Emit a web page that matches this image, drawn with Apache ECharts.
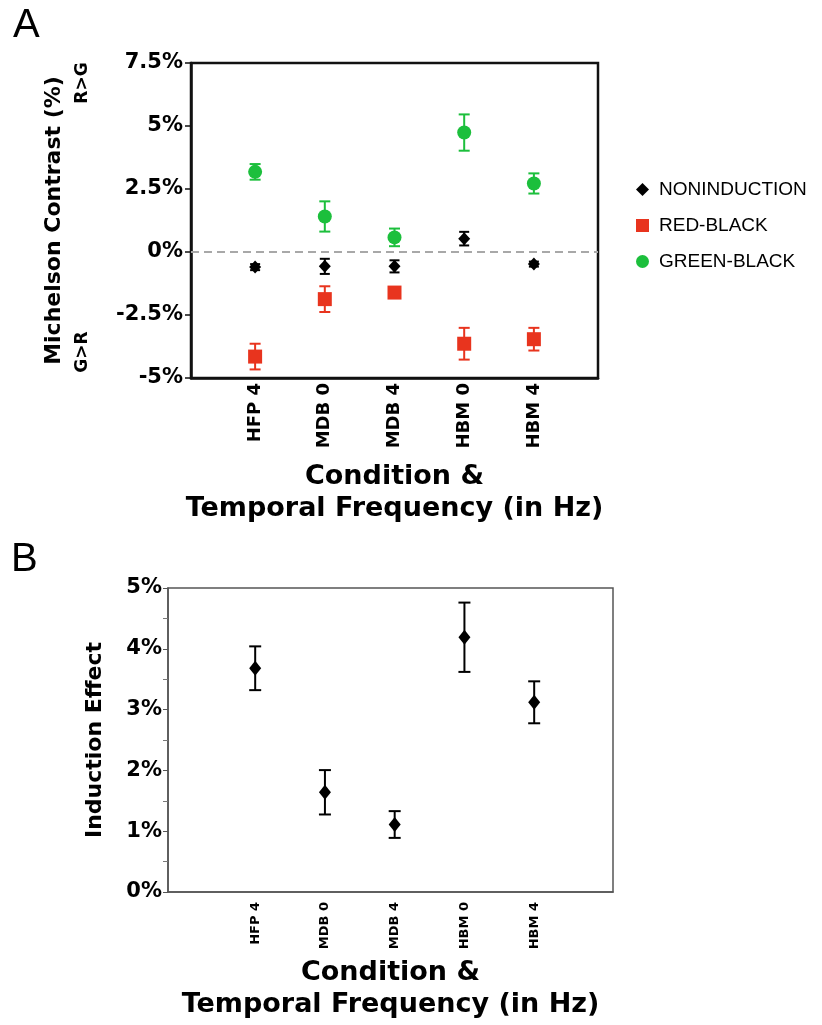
<!DOCTYPE html>
<html>
<head>
<meta charset="utf-8">
<script src="https://cdn.jsdelivr.net/npm/echarts@6/dist/echarts.min.js"></script>
<style>
  html, body { margin: 0; padding: 0; background: #fff; }
  #chart { width: 822px; height: 1025px; }
</style>
</head>
<body>
<div id="chart"></div>
<script>
const conditions = ["HFP 4", "MDB 0", "MDB 4", "HBM 0", "HBM 4"];
const conditionPos = [1, 2, 3, 4, 5];

// panel A: Michelson contrast (%)
const nonInductionMean = [-0.6, -0.57, -0.57, 0.53, -0.48];
const nonInductionErr = [0.12, 0.3, 0.24, 0.27, 0.1];
const redBlackMean = [-4.15, -1.87, -1.61, -3.64, -3.46];
const redBlackErr = [0.51, 0.51, 0.14, 0.63, 0.45];
const greenBlackMean = [3.18, 1.41, 0.58, 4.74, 2.72];
const greenBlackErr = [0.31, 0.6, 0.35, 0.72, 0.4];

// panel B: induction effect (%)
const inductionMean = [3.68, 1.64, 1.11, 4.19, 3.12];
const inductionErr = [0.36, 0.365, 0.22, 0.57, 0.345];

const yTicksA = [-5, -2.5, 0, 2.5, 5, 7.5];
const yTicksB = [0, 1, 2, 3, 4, 5];

const greenColor = "#1cbf3c";
const redColor = "#e8341e";
const blackColor = "#000000";
const fontMain = "DejaVu Sans";

function pointData(means) {
  return means.map((m, i) => [conditionPos[i], m]);
}

function errorBars(means, errs, color, capWidth, gridIdx) {
  return {
    type: "custom",
    xAxisIndex: gridIdx,
    yAxisIndex: gridIdx,
    silent: true,
    z: 2,
    data: means.map((m, i) => [conditionPos[i], m - errs[i], m + errs[i]]),
    renderItem: function (params, api) {
      const x = api.value(0);
      const lo = api.coord([x, api.value(1)]);
      const hi = api.coord([x, api.value(2)]);
      const h = capWidth / 2;
      const style = { stroke: color, lineWidth: 2 };
      return {
        type: "group",
        children: [
          { type: "line", shape: { x1: lo[0], y1: lo[1], x2: hi[0], y2: hi[1] }, style: style },
          { type: "line", shape: { x1: lo[0] - h, y1: lo[1], x2: lo[0] + h, y2: lo[1] }, style: style },
          { type: "line", shape: { x1: hi[0] - h, y1: hi[1], x2: hi[0] + h, y2: hi[1] }, style: style },
        ],
      };
    },
  };
}

const chart = echarts.init(document.getElementById("chart"), null, { renderer: "canvas" });

chart.setOption({
  animation: false,
  textStyle: { fontFamily: fontMain },
  grid: [
    { left: 191, top: 63, width: 407, height: 315, show: true, borderColor: "#111", borderWidth: 2.5, backgroundColor: "transparent" },
    { left: 168, top: 588, width: 445, height: 304, show: true, borderColor: "#555", borderWidth: 1.5, backgroundColor: "transparent" },
  ],
  legend: {
    orient: "vertical",
    left: 636,
    top: 180,
    padding: 0,
    itemGap: 17,
    itemWidth: 13,
    itemHeight: 13,
    textStyle: { fontFamily: "Liberation Sans", fontSize: 19, color: "#000", padding: [0, 0, 0, 5] },
    data: ["NONINDUCTION", "RED-BLACK", "GREEN-BLACK"],
  },
  xAxis: [
    {
      type: "value",
      gridIndex: 0,
      min: 0.08,
      max: 5.92,
      splitLine: { show: false },
      axisTick: { show: false },
      axisLine: { show: true, onZero: false, lineStyle: { color: "#111", width: 2.5 } },
      axisLabel: {
        customValues: conditionPos,
        rotate: 90,
        margin: 5,
        fontSize: 18,
        fontWeight: "bold",
        color: "#000",
        formatter: (v) => conditions[conditionPos.indexOf(v)] || "",
      },
      name: "Condition &\nTemporal Frequency (in Hz)",
      nameLocation: "middle",
      nameGap: 83,
      nameTextStyle: { fontSize: 27, fontWeight: "bold", color: "#000", lineHeight: 32 },
    },
    {
      type: "value",
      gridIndex: 1,
      min: -0.25,
      max: 6.13,
      splitLine: { show: false },
      axisTick: { show: false },
      axisLine: { show: true, onZero: false, lineStyle: { color: "#555", width: 1.5 } },
      axisLabel: {
        customValues: conditionPos,
        rotate: 90,
        margin: 10,
        fontSize: 13,
        fontWeight: "bold",
        color: "#000",
        formatter: (v) => conditions[conditionPos.indexOf(v)] || "",
      },
      name: "Condition &\nTemporal Frequency (in Hz)",
      nameLocation: "middle",
      nameGap: 65,
      nameTextStyle: { fontSize: 27, fontWeight: "bold", color: "#000", lineHeight: 32 },
    },
  ],
  yAxis: [
    {
      type: "value",
      gridIndex: 0,
      min: yTicksA[0],
      max: yTicksA[yTicksA.length - 1],
      interval: 2.5,
      splitLine: { show: false },
      axisLine: { show: true, onZero: false, lineStyle: { color: "#111", width: 2.5 } },
      axisTick: { show: true, length: 6, lineStyle: { color: "#111", width: 1.5 } },
      axisLabel: { margin: 8, fontSize: 21, fontWeight: "bold", color: "#000", formatter: (v) => v + "%" },
      name: "Michelson Contrast (%)",
      nameLocation: "middle",
      nameGap: 126,
      nameTextStyle: { fontSize: 22, fontWeight: "bold", color: "#000" },
    },
    {
      type: "value",
      gridIndex: 1,
      min: yTicksB[0],
      max: yTicksB[yTicksB.length - 1],
      interval: 1,
      splitLine: { show: false },
      axisLine: { show: true, onZero: false, lineStyle: { color: "#555", width: 1.5 } },
      axisTick: { show: true, length: 5, lineStyle: { color: "#555", width: 1 } },
      minorTick: { show: true, splitNumber: 2, length: 5, lineStyle: { color: "#777", width: 1 } },
      axisLabel: { margin: 6, fontSize: 21, fontWeight: "bold", color: "#000", formatter: (v) => v + "%" },
      name: "Induction Effect",
      nameLocation: "middle",
      nameGap: 62,
      nameTextStyle: { fontSize: 22, fontWeight: "bold", color: "#000" },
    },
  ],
  graphic: [
    { type: "text", left: 13, top: 6, style: { text: "A", font: "40px 'Liberation Sans'", fill: "#000" } },
    { type: "text", left: 11, top: 540, style: { text: "B", font: "40px 'Liberation Sans'", fill: "#000" } },
    { type: "text", x: 83, y: 83, rotation: Math.PI / 2, style: { text: "R>G", font: "bold 17px 'DejaVu Sans'", fill: "#000", align: "center", verticalAlign: "middle" } },
    { type: "text", x: 83, y: 352, rotation: Math.PI / 2, style: { text: "G>R", font: "bold 17px 'DejaVu Sans'", fill: "#000", align: "center", verticalAlign: "middle" } },
  ],
  series: [
    errorBars(nonInductionMean, nonInductionErr, blackColor, 10, 0),
    errorBars(redBlackMean, redBlackErr, redColor, 11, 0),
    errorBars(greenBlackMean, greenBlackErr, greenColor, 11, 0),
    {
      name: "NONINDUCTION",
      type: "scatter",
      xAxisIndex: 0,
      yAxisIndex: 0,
      symbol: "diamond",
      symbolSize: [12, 13],
      itemStyle: { color: blackColor, opacity: 1 },
      z: 3,
      data: pointData(nonInductionMean),
      markLine: {
        silent: true,
        symbol: ["none", "none"],
        label: { show: false },
        lineStyle: { color: "#a8a8a8", type: [8, 5], width: 2 },
        data: [{ yAxis: 0 }],
      },
    },
    {
      name: "RED-BLACK",
      type: "scatter",
      xAxisIndex: 0,
      yAxisIndex: 0,
      symbol: "rect",
      symbolSize: 14,
      itemStyle: { color: redColor, opacity: 1 },
      z: 3,
      data: pointData(redBlackMean),
    },
    {
      name: "GREEN-BLACK",
      type: "scatter",
      xAxisIndex: 0,
      yAxisIndex: 0,
      symbol: "circle",
      symbolSize: 14,
      itemStyle: { color: greenColor, opacity: 1 },
      z: 3,
      data: pointData(greenBlackMean),
    },
    errorBars(inductionMean, inductionErr, blackColor, 12, 1),
    {
      name: "INDUCTION",
      type: "scatter",
      xAxisIndex: 1,
      yAxisIndex: 1,
      symbol: "diamond",
      symbolSize: [12, 15],
      itemStyle: { color: blackColor, opacity: 1 },
      z: 3,
      data: pointData(inductionMean),
    },
  ],
});
</script>
</body>
</html>
